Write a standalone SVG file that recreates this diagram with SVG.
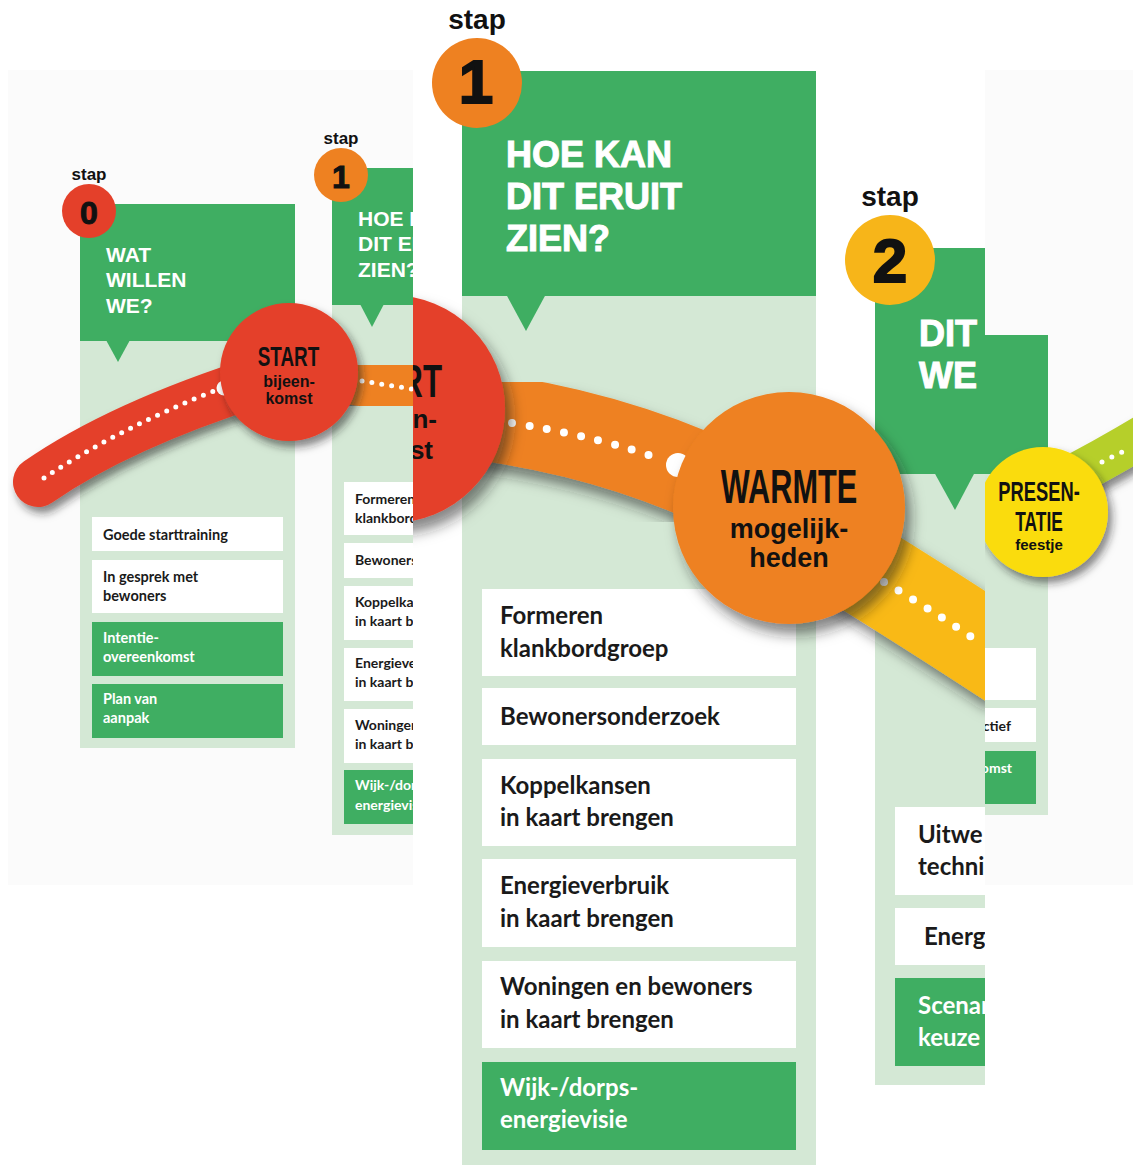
<svg xmlns="http://www.w3.org/2000/svg" width="1133" height="1165" viewBox="0 0 1133 1165">
<defs>
<style>
.hdr{fill:#3fae62}
.pnl{fill:#d4e8d5}
.wb{fill:#ffffff}
.gb{fill:#3fae62}
.ttl{font-family:"Liberation Sans",Arial,sans-serif;font-weight:bold;fill:#ffffff}
.stap{font-family:"Liberation Sans",Arial,sans-serif;font-weight:bold;fill:#111111;text-anchor:middle}
.num{font-family:"Liberation Sans",Arial,sans-serif;font-weight:bold;fill:#111111;stroke:#111111;text-anchor:middle}
.it{font-family:Lato,"Open Sans",sans-serif;font-weight:bold;fill:#1a1a1a}
.itw{font-family:Lato,"Open Sans",sans-serif;font-weight:bold;fill:#ffffff}
.cond{font-family:"Liberation Sans",Arial,sans-serif;font-weight:bold;fill:#111111}
.sub{font-family:"Liberation Sans",Arial,sans-serif;font-weight:bold;fill:#111111}
.mid{text-anchor:middle}
.end{text-anchor:end}
.band{fill:none}
.dots{fill:none;stroke:#ffffff;stroke-linecap:round}
</style>
<filter id="sh" x="-40%" y="-40%" width="180%" height="190%"><feDropShadow dx="4" dy="6" stdDeviation="4" flood-color="#1a1a1a" flood-opacity="0.55"/></filter>
<filter id="shB" x="-40%" y="-40%" width="180%" height="190%"><feDropShadow dx="6" dy="10" stdDeviation="7" flood-color="#1a1a1a" flood-opacity="0.55"/></filter>
<clipPath id="cL"><rect x="0" y="0" width="413" height="1165"/></clipPath>
<clipPath id="cM"><rect x="413" y="0" width="572" height="1165"/></clipPath>
<clipPath id="cR"><rect x="985" y="0" width="148" height="1165"/></clipPath>
</defs>

<rect x="0" y="0" width="1133" height="1165" fill="#ffffff"/>
<rect x="8" y="70" width="1125" height="815" fill="#fbfbfb"/>

<!-- LEFT small-scale layer -->
<g id="left-layer" clip-path="url(#cL)">
  <g id="stap0">
    <rect class="pnl" x="80" y="340" width="215" height="408"/>
    <rect class="hdr" x="80" y="204" width="215" height="137"/>
    <polygon class="hdr" points="106,340 130,340 118,362"/>
    <circle cx="89" cy="211" r="27" fill="#e4402a"/>
    <text class="stap" x="89" y="180" font-size="17">stap</text>
    <text class="num" x="89" y="224" font-size="32" stroke-width="1">0</text>
    <text class="ttl" x="106" y="262" font-size="21">WAT</text>
    <text class="ttl" x="106" y="287" font-size="21">WILLEN</text>
    <text class="ttl" x="106" y="313" font-size="21">WE?</text>
    <rect class="wb" x="92" y="517" width="191" height="34"/>
    <text class="it" x="103" y="540" font-size="14.5">Goede starttraining</text>
    <rect class="wb" x="92" y="560" width="191" height="53"/>
    <text class="it" x="103" y="582" font-size="14.5">In gesprek met</text>
    <text class="it" x="103" y="601" font-size="14.5">bewoners</text>
    <rect class="gb" x="92" y="622" width="191" height="54"/>
    <text class="itw" x="103" y="643" font-size="14.5">Intentie-</text>
    <text class="itw" x="103" y="662" font-size="14.5">overeenkomst</text>
    <rect class="gb" x="92" y="684" width="191" height="54"/>
    <text class="itw" x="103" y="704" font-size="14.5">Plan van</text>
    <text class="itw" x="103" y="723" font-size="14.5">aanpak</text>
  </g>
  <g id="stap1-small">
    <rect class="pnl" x="332" y="304" width="215" height="531"/>
    <rect class="hdr" x="332" y="168" width="215" height="137"/>
    <polygon class="hdr" points="360,304 384,304 372,327"/>
    <circle cx="341" cy="175" r="27" fill="#ee8121"/>
    <text class="stap" x="341" y="144" font-size="17">stap</text>
    <text class="num" x="341" y="188" font-size="32" stroke-width="1">1</text>
    <text class="ttl" x="358" y="226" font-size="21">HOE KAN</text>
    <text class="ttl" x="358" y="251" font-size="21">DIT ERUIT</text>
    <text class="ttl" x="358" y="277" font-size="21">ZIEN?</text>
    <rect class="wb" x="344" y="482" width="191" height="53"/>
    <text class="it" x="355" y="504" font-size="14">Formeren</text>
    <text class="it" x="355" y="523" font-size="14">klankbordgroep</text>
    <rect class="wb" x="344" y="543" width="191" height="35"/>
    <text class="it" x="355" y="565" font-size="14">Bewonersonderzoek</text>
    <rect class="wb" x="344" y="586" width="191" height="54"/>
    <text class="it" x="355" y="607" font-size="14">Koppelkansen</text>
    <text class="it" x="355" y="626" font-size="14">in kaart brengen</text>
    <rect class="wb" x="344" y="648" width="191" height="53"/>
    <text class="it" x="355" y="668" font-size="14">Energieverbruik</text>
    <text class="it" x="355" y="687" font-size="14">in kaart brengen</text>
    <rect class="wb" x="344" y="709" width="191" height="54"/>
    <text class="it" x="355" y="730" font-size="14">Woningen en bewoners</text>
    <text class="it" x="355" y="749" font-size="14">in kaart brengen</text>
    <rect class="gb" x="344" y="770" width="191" height="54"/>
    <text class="itw" x="355" y="790" font-size="14">Wijk-/dorps-</text>
    <text class="itw" x="355" y="810" font-size="14">energievisie</text>
  </g>
  <g id="connectors-small-left">
    <path class="band" d="M 38 482 Q 120 425 262 380" stroke="#e4402a" stroke-width="50" stroke-linecap="round" filter="url(#sh)"/>
    <path class="dots" d="M 44 478 Q 120 428 214 391" stroke-width="5" stroke-dasharray="0 10"/>
    <circle cx="224" cy="388" r="7.5" fill="#ffffff"/>
    <path class="band" d="M 320 374 Q 380 382 440 395" stroke="#ee8121" stroke-width="52" filter="url(#sh)"/>
    <path class="dots" d="M 362 381 L 412 389" stroke-width="5" stroke-dasharray="0 10"/>
  </g>
  <g id="start-small">
    <circle cx="289" cy="372" r="69" fill="#e4402a" filter="url(#sh)"/>
    <text class="cond mid" transform="translate(288.5,366) scale(0.675,1)" font-size="28">START</text>
    <text class="sub mid" x="289" y="387" font-size="16">bijeen-</text>
    <text class="sub mid" x="289" y="404" font-size="16">komst</text>
  </g>
</g>

<!-- RIGHT small-scale layer -->
<g id="right-layer" clip-path="url(#cR)">
  <g id="stap2-small">
    <rect class="pnl" x="833" y="473" width="215" height="342"/>
    <rect class="hdr" x="833" y="335" width="215" height="139"/>
    <rect class="wb" x="845" y="648" width="191" height="52"/>
    <rect class="wb" x="845" y="708" width="191" height="34"/>
    <text class="it end" x="1011" y="731" font-size="14">ctief</text>
    <rect class="gb" x="845" y="751" width="191" height="53"/>
    <text class="itw end" x="1012" y="773" font-size="14">omst</text>
  </g>
  <g id="connectors-small-right">
    <path class="band" d="M 1060 482 Q 1100 462 1150 432" stroke="#b6cf2c" stroke-width="42" filter="url(#sh)"/>
    <path class="dots" d="M 1102 462 L 1128 449" stroke-width="5" stroke-dasharray="0 11"/>
  </g>
  <g id="presentatie">
    <circle cx="1043" cy="512" r="65" fill="#fadc0a" filter="url(#sh)"/>
    <text class="cond mid" transform="translate(1039,501) scale(0.655,1)" font-size="28">PRESEN-</text>
    <text class="cond mid" transform="translate(1039,531) scale(0.62,1)" font-size="28">TATIE</text>
    <text class="sub mid" x="1039" y="550" font-size="15">feestje</text>
  </g>
</g>

<!-- MIDDLE magnified layer -->
<g id="middle-layer" clip-path="url(#cM)">
  <rect x="413" y="0" width="572" height="1165" fill="#ffffff"/>
  <g id="stap1-big">
    <rect class="pnl" x="462" y="294" width="354" height="871"/>
    <rect class="hdr" x="462" y="71" width="354" height="225"/>
    <polygon class="hdr" points="506,294 546,294 526,331"/>
    <circle cx="477" cy="83" r="45" fill="#ee8121"/>
    <text class="stap" x="477" y="29" font-size="28">stap</text>
    <text class="num" x="476" y="103" font-size="62" stroke-width="2">1</text>
    <text class="ttl" x="506" y="167" font-size="36" stroke="#ffffff" stroke-width="1">HOE KAN</text>
    <text class="ttl" x="506" y="209" font-size="36" stroke="#ffffff" stroke-width="1">DIT ERUIT</text>
    <text class="ttl" x="506" y="251" font-size="36" stroke="#ffffff" stroke-width="1">ZIEN?</text>
    <rect class="wb" x="482" y="589" width="314" height="87"/>
    <text class="it" x="500" y="624" font-size="24">Formeren</text>
    <text class="it" x="500" y="657" font-size="24">klankbordgroep</text>
    <rect class="wb" x="482" y="688" width="314" height="57"/>
    <text class="it" x="500" y="725" font-size="24">Bewonersonderzoek</text>
    <rect class="wb" x="482" y="759" width="314" height="87"/>
    <text class="it" x="500" y="794" font-size="24">Koppelkansen</text>
    <text class="it" x="500" y="826" font-size="24">in kaart brengen</text>
    <rect class="wb" x="482" y="859" width="314" height="88"/>
    <text class="it" x="500" y="894" font-size="24">Energieverbruik</text>
    <text class="it" x="500" y="927" font-size="24">in kaart brengen</text>
    <rect class="wb" x="482" y="961" width="314" height="87"/>
    <text class="it" x="500" y="995" font-size="24">Woningen en bewoners</text>
    <text class="it" x="500" y="1028" font-size="24">in kaart brengen</text>
    <rect class="gb" x="482" y="1062" width="314" height="88"/>
    <text class="itw" x="500" y="1096" font-size="24">Wijk-/dorps-</text>
    <text class="itw" x="500" y="1128" font-size="24">energievisie</text>
  </g>
  <g id="stap2-big">
    <rect class="pnl" x="875" y="472" width="354" height="613"/>
    <rect class="hdr" x="875" y="248" width="354" height="226"/>
    <polygon class="hdr" points="934,472 975,472 955,510"/>
    <circle cx="890" cy="260" r="45" fill="#f7b519"/>
    <text class="stap" x="890" y="206" font-size="28">stap</text>
    <text class="num" x="890" y="282" font-size="62" stroke-width="2">2</text>
    <text class="ttl" x="919" y="346" font-size="36" stroke="#ffffff" stroke-width="1">DIT</text>
    <text class="ttl" x="919" y="388" font-size="36" stroke="#ffffff" stroke-width="1">WE</text>
    <rect class="wb" x="895" y="807" width="314" height="88"/>
    <text class="it" x="918" y="843" font-size="24">Uitwe</text>
    <text class="it" x="918" y="875" font-size="24">techni</text>
    <rect class="wb" x="895" y="908" width="314" height="57"/>
    <text class="it" x="924" y="945" font-size="24">Energ</text>
    <rect class="gb" x="895" y="978" width="314" height="88"/>
    <text class="itw" x="918" y="1014" font-size="24">Scenar</text>
    <text class="itw" x="918" y="1046" font-size="24">keuze</text>
  </g>
  <g id="connectors-big">
    <path class="band" d="M 440 412 Q 590 425 720 485" stroke="#ee8121" stroke-width="88" filter="url(#shB)"/>
    <path class="dots" d="M 512 423 Q 600 437 660 459" stroke-width="8" stroke-dasharray="0 17.5"/>
    <circle cx="678" cy="465" r="12" fill="#ffffff"/>
    <path class="band" d="M 800 530 Q 900 590 1010 662" stroke="#f9b916" stroke-width="92" filter="url(#shB)"/>
    <path class="dots" d="M 884 582 Q 930 609 976 640" stroke-width="8" stroke-dasharray="0 17"/>
  </g>
  <g id="start-big">
    <circle cx="391" cy="409" r="114" fill="#e4402a" filter="url(#shB)"/>
    <text class="cond end" transform="translate(442,397) scale(0.68,1)" font-size="46">START</text>
    <text class="sub end" x="437" y="428" font-size="26">bijeen-</text>
    <text class="sub end" x="433" y="459" font-size="26">komst</text>
  </g>
  <g id="warmte">
    <circle cx="789" cy="508" r="116" fill="#ee8121" filter="url(#shB)"/>
    <text class="cond mid" transform="translate(789,503) scale(0.627,1)" font-size="49">WARMTE</text>
    <text class="sub mid" x="789" y="538" font-size="27">mogelijk-</text>
    <text class="sub mid" x="789" y="567" font-size="27">heden</text>
  </g>
</g>
</svg>
